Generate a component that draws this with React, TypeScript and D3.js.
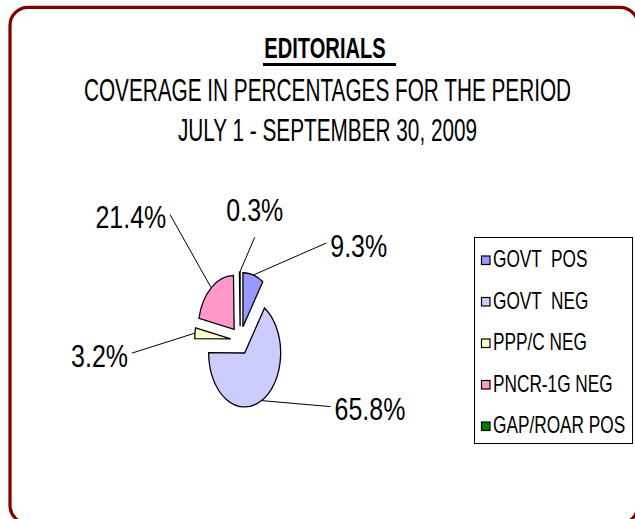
import React from "react";
import * as d3 from "d3";

// chart data
const categories = ["GOVT  POS", "GOVT  NEG", "PPP/C NEG", "PNCR-1G NEG", "GAP/ROAR POS"];
const values = [9.3, 65.8, 3.2, 21.4, 0.3];
const colors = ["#9999FF", "#CCCCFF", "#FFFFCC", "#FF99CC", "#008000"];
const titleLines = ["COVERAGE IN PERCENTAGES FOR THE PERIOD", "JULY 1 - SEPTEMBER 30, 2009"];

// label layout: leader line end relative to the slice edge, and text anchor
const leaderOffsets = [
  [73, -32],
  [69, 6],
  [-63, 20],
  [-41, -73],
  [15, -35],
];
const labelAnchors = ["start", "start", "end", "end", "middle"];

const W = 635;
const H = 519;
const cx = 240.2;
const cy = 340.4;
const R = 36; // radius before vertical stretch
const stretch = 1.5; // the original image is stretched vertically
const explode = 9.5;

const font = "'Liberation Sans', Arial, sans-serif";

// horizontally condensed text (the picture looks like Arial Narrow)
const Txt = ({ x, y, size, sx, anchor = "start", bold = false, children }: any) => (
  <text
    transform={`translate(${x},${y}) scale(${sx},1)`}
    textAnchor={anchor}
    fontFamily={font}
    fontSize={size}
    fontWeight={bold ? "bold" : "normal"}
    fill="#000"
    style={{ whiteSpace: "pre" }}
  >
    {children}
  </text>
);

const App = () => {
  const pie = d3.pie<number>().sort(null).value((d) => d)(values);
  const arc = d3.arc<d3.PieArcDatum<number>>().innerRadius(0).outerRadius(R);

  const legendX = 474;
  const legendY = 237;
  const legendW = 158;
  const legendH = 206;
  const rowY = d3.scalePoint<number>().domain(d3.range(categories.length)).range([legendY + 30, legendY + 196]);

  return (
    <svg width={W} height={H} style={{ position: "absolute", left: 0, top: 0, background: "#fff" }}>
      <rect x={10} y={7.3} width={628} height={516} rx={18} fill="#fff" stroke="#800000" strokeWidth={3.2} />

      {/* titles */}
      <Txt x={325} y={58} size={30} sx={0.67} anchor="middle" bold>
        EDITORIALS
      </Txt>
      <line x1={263} x2={396} y1={64.5} y2={64.5} stroke="#000" strokeWidth={3} />
      {titleLines.map((t, i) => (
        <Txt key={t} x={327.5} y={100.5 + i * 40} size={31} sx={0.67} anchor="middle">
          {t}
        </Txt>
      ))}

      {/* pie */}
      <g transform={`translate(${cx},${cy}) scale(1,${stretch})`}>
        {pie.map((p, i) => {
          const mid = (p.startAngle + p.endAngle) / 2;
          const ox = explode * Math.sin(mid);
          const oy = -explode * Math.cos(mid);
          return (
            <path
              key={i}
              d={arc(p) || ""}
              transform={`translate(${ox},${oy})`}
              fill={colors[i]}
              stroke="#000"
              strokeWidth={1.3}
              vectorEffect="non-scaling-stroke"
              strokeLinejoin="miter"
            />
          );
        })}
      </g>

      {/* data labels */}
      {pie.map((p, i) => {
        const mid = (p.startAngle + p.endAngle) / 2;
        const sx0 = cx + (R + explode) * Math.sin(mid);
        const sy0 = cy - stretch * (R + explode) * Math.cos(mid);
        const ex = sx0 + leaderOffsets[i][0];
        const ey = sy0 + leaderOffsets[i][1];
        const anchor = labelAnchors[i];
        const tx = anchor === "start" ? ex + 4 : anchor === "end" ? ex - 4 : ex;
        const ty = anchor === "middle" ? ey - 16.5 : ey + 13.5;
        return (
          <g key={i}>
            <path d={`M${sx0},${sy0}L${ex},${ey}`} stroke="#000" strokeWidth={1} fill="none" />
            <Txt x={tx} y={ty} size={32} sx={0.78} anchor={anchor}>
              {`${values[i].toFixed(1)}%`}
            </Txt>
          </g>
        );
      })}

      {/* legend */}
      <rect x={legendX + 0.5} y={legendY + 0.5} width={legendW} height={legendH} fill="#fff" stroke="#000" strokeWidth={1} />
      {categories.map((c, i) => {
        const y = rowY(i) as number;
        return (
          <g key={c}>
            <rect x={481.5} y={y - 11} width={8.5} height={8.5} fill={colors[i]} stroke="#000" strokeWidth={1.2} />
            <Txt x={493} y={y} size={23} sx={0.75}>
              {c}
            </Txt>
          </g>
        );
      })}
    </svg>
  );
};

export default App;
